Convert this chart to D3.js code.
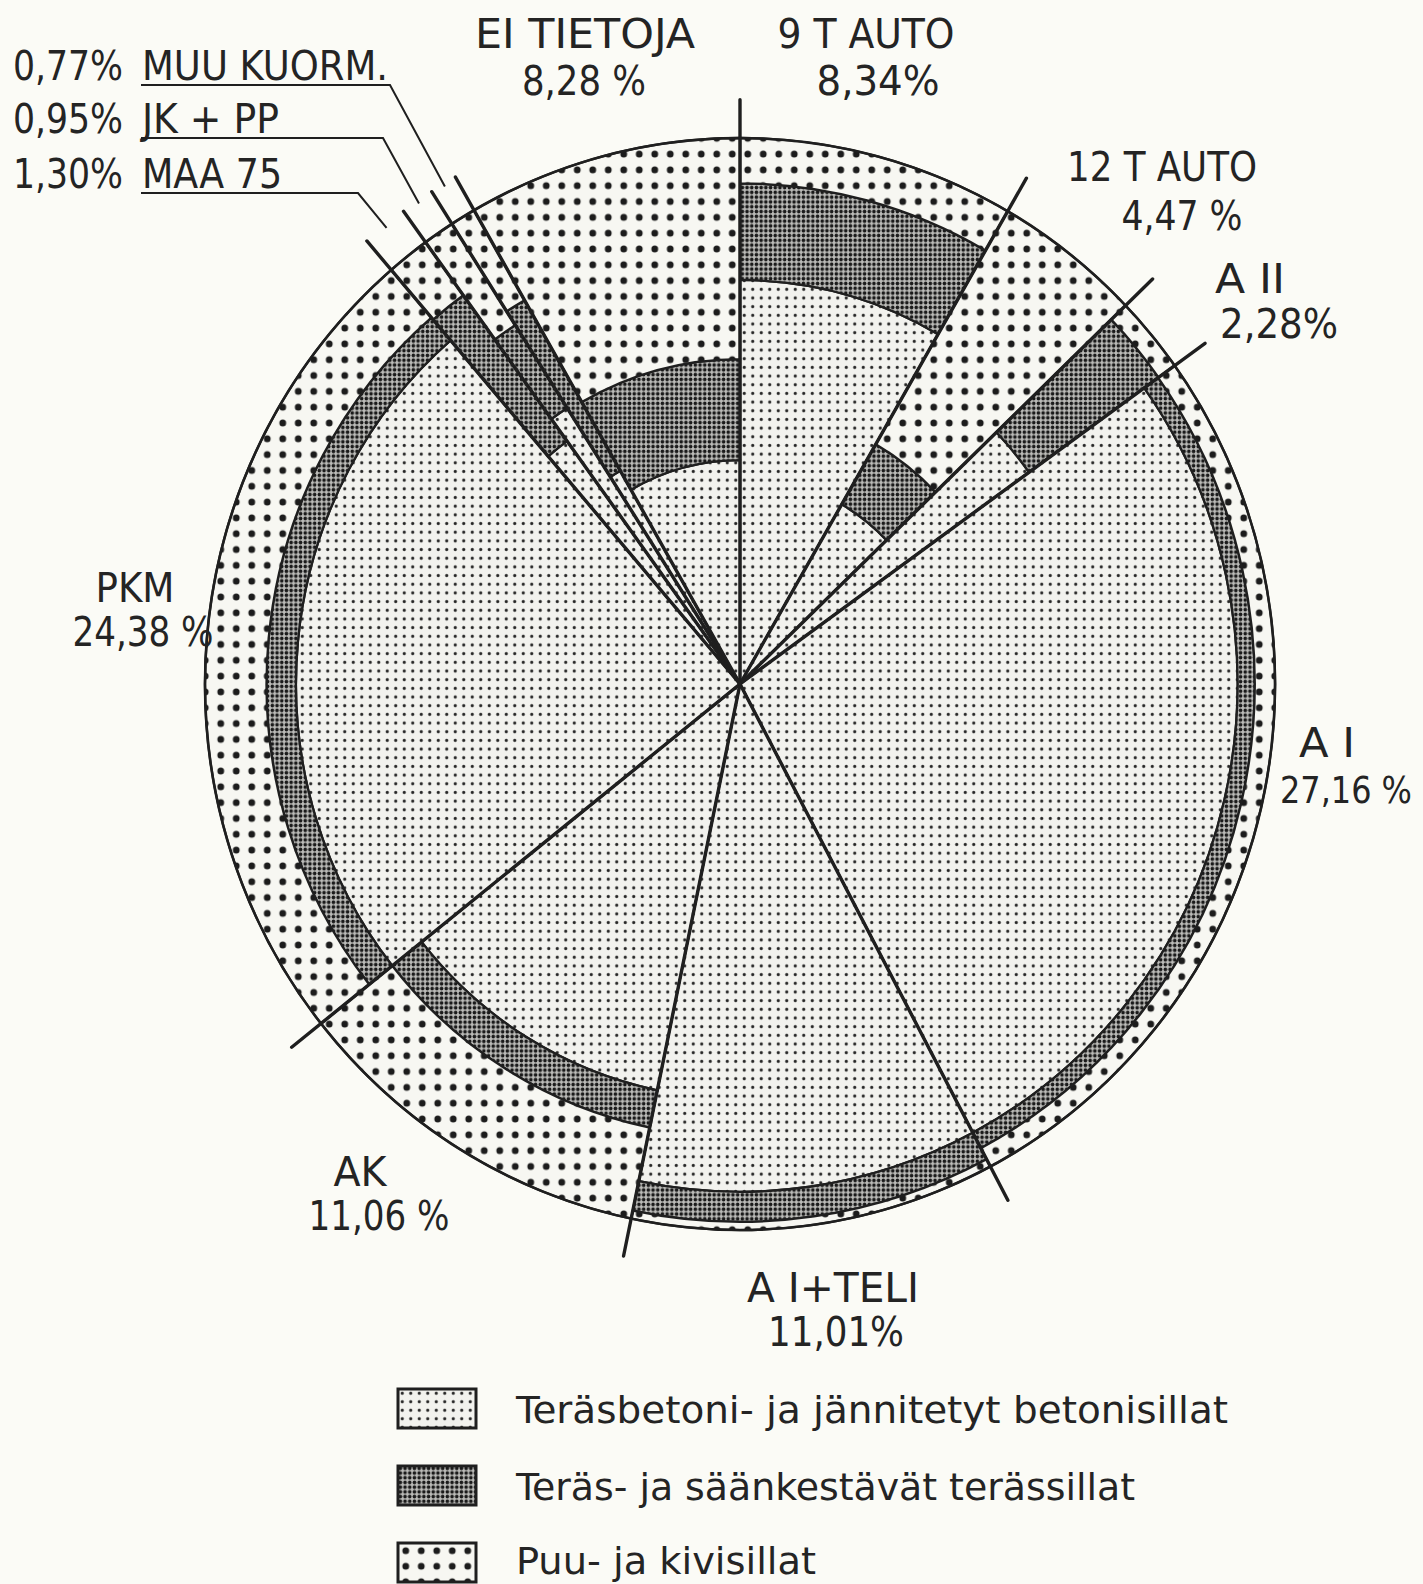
<!DOCTYPE html>
<html>
<head>
<meta charset="utf-8">
<script src="https://cdn.jsdelivr.net/npm/d3@7"></script>
<style>
  body { margin: 0; background: #fbfbf6; }
  text { font-family: "DejaVu Sans Condensed", "DejaVu Sans", sans-serif; fill: #242424; }
</style>
</head>
<body>
<svg id="chart" width="1423" height="1584"></svg>
<script>
// kuormitusluokat, kellon suuntaan klo 12:sta
const categories = ["9 T AUTO", "12 T AUTO", "A II", "A I", "A I+TELI", "AK", "PKM", "MAA 75", "JK + PP", "MUU KUORM.", "EI TIETOJA"];
const shares = [8.34, 4.47, 2.28, 27.16, 11.01, 11.06, 24.38, 1.30, 0.95, 0.77, 8.28];
// osuus säteestä, johon teräsbetonisillat / terässillat ulottuvat
const betoniEnd = [0.74, 0.38, 0.665, 0.93, 0.93, 0.76, 0.83, 0.55, 0.60, 0.45, 0.41];
const terasEnd = [0.917, 0.507, 0.963, 0.962, 0.985, 0.83, 0.885, 0.88, 0.78, 0.81, 0.595];
const bridgeTypes = ["Teräsbetoni- ja jännitetyt betonisillat", "Teräs- ja säänkestävät terässillat", "Puu- ja kivisillat"];

// label layout (page coords): name x, name y, name width, pct x, pct y, pct width, gap before %, pct font size
const labelLayout = [
  [866, 48, 177, 878, 95, 123, "", 40],
  [1162, 181, 190, 1182, 230, 121, " ", 40],
  [1250, 293, 70, 1279, 338, 118, "", 40],
  [1327, 757, 56, 1346, 803, 132, " ", 37],
  [833, 1302, 172, 836, 1346, 136, "", 40],
  [360, 1186, 53, 379, 1230, 141, " ", 40],
  [135, 602, 79, 143, 646, 141, " ", 40],
  null, null, null,
  [585, 48, 220, 584, 95, 124, " ", 40]
];
// left column labels for the thin slices: baseline, name width, underline end
const sideRows = { 9: [80, 246, 390], 8: [133, 137, 383], 7: [188, 140, 358] };
const legendWidths = [712, 619, 300];

const svg = d3.select("#chart");
const cx = 740, cy = 684, rx = 535, ry = 546;
const ink = "#1f1f1f";

// fill patterns
const defs = svg.append("defs");
function dots(id, pitch, rad, bg, fg) {
  const p = defs.append("pattern").attr("id", id)
    .attr("patternUnits", "userSpaceOnUse")
    .attr("width", pitch).attr("height", pitch);
  p.append("rect").attr("width", pitch).attr("height", pitch).attr("fill", bg);
  p.append("circle").attr("cx", pitch / 2).attr("cy", pitch / 2).attr("r", rad).attr("fill", fg);
}
dots("betoni", 8.5, 1.55, "#f2f2ee", "#262626");
dots("teras", 4.7, 1.8, "#bcbcb9", "#1a1a1a");
dots("puu", 15.5, 3.4, "#f7f7f2", "#1c1c1c");
const fills = ["url(#betoni)", "url(#teras)", "url(#puu)"];

const r = d3.scaleLinear().domain([0, 1]).range([0, rx]);
const pie = d3.pie().sort(null).value(d => d.share);
const slices = pie(categories.map((c, i) => ({ name: c, share: shares[i], b: betoniEnd[i], t: terasEnd[i] })));
const arc = d3.arc();

const g = svg.append("g")
  .attr("transform", `translate(${cx},${cy}) scale(1,${ry / rx})`);

g.selectAll("g.slice")
  .data(slices)
  .join("g")
  .attr("class", "slice")
  .selectAll("path")
  .data(s => [[0, s.data.b], [s.data.b, s.data.t], [s.data.t, 1]].map((d, k) => ({
    inner: d[0], outer: d[1], k: k, s: s
  })))
  .join("path")
  .attr("d", d => arc({ innerRadius: r(d.inner), outerRadius: r(d.outer), startAngle: d.s.startAngle, endAngle: d.s.endAngle }))
  .attr("fill", d => fills[d.k])
  .attr("stroke", ink)
  .attr("stroke-width", 2.3)
  .attr("vector-effect", "non-scaling-stroke");

// outer rim
g.append("ellipse")
  .attr("rx", r(1)).attr("ry", r(1))
  .attr("fill", "none").attr("stroke", ink).attr("stroke-width", 2.6)
  .attr("vector-effect", "non-scaling-stroke");

// spokes, running a bit past the rim
g.selectAll("line.spoke")
  .data(slices)
  .join("line")
  .attr("class", "spoke")
  .attr("x1", 0).attr("y1", 0)
  .attr("x2", d => d3.pointRadial(d.startAngle, r(1.07))[0])
  .attr("y2", d => d3.pointRadial(d.startAngle, r(1.07))[1])
  .attr("stroke", ink).attr("stroke-width", 3.4)
  .attr("stroke-linecap", "round")
  .attr("vector-effect", "non-scaling-stroke");

function pct(i) {
  const gap = labelLayout[i] ? labelLayout[i][6] : "";
  return shares[i].toFixed(2).replace(".", ",") + gap + "%";
}

// labels round the pie
const lbl = svg.append("g").attr("font-size", 40);
slices.forEach((s, i) => {
  const L = labelLayout[i];
  if (!L) return;
  lbl.append("text").attr("x", L[0] - L[2] / 2).attr("y", L[1])
    .attr("textLength", L[2]).attr("lengthAdjust", "spacingAndGlyphs").text(categories[i]);
  lbl.append("text").attr("x", L[3] - L[5] / 2).attr("y", L[4])
    .attr("font-size", L[7])
    .attr("textLength", L[5]).attr("lengthAdjust", "spacingAndGlyphs").text(pct(i));
});

// thin slices labelled on the left, with leader lines
Object.keys(sideRows).forEach(key => {
  const i = +key, s = slices[i];
  const [by, w, ux] = sideRows[i];
  lbl.append("text").attr("x", 13).attr("y", by)
    .attr("textLength", 110).attr("lengthAdjust", "spacingAndGlyphs").text(pct(i));
  lbl.append("text").attr("x", 142).attr("y", by)
    .attr("textLength", w).attr("lengthAdjust", "spacingAndGlyphs").text(categories[i]);
  const p = d3.pointRadial((s.startAngle + s.endAngle) / 2, r(1.065));
  const end = [cx + p[0], cy + p[1] * ry / rx];
  svg.append("path")
    .attr("d", d3.line()([[141, by + 5], [ux, by + 5], end]))
    .attr("fill", "none").attr("stroke", ink).attr("stroke-width", 2);
});

// legend
const leg = svg.append("g").attr("transform", "translate(398,1389)");
const legRows = leg.selectAll("g")
  .data(bridgeTypes)
  .join("g")
  .attr("transform", (d, k) => `translate(0,${k * 77})`);
legRows.append("rect")
  .attr("width", 78).attr("height", 39)
  .attr("fill", (d, k) => fills[k])
  .attr("stroke", ink).attr("stroke-width", 3);
legRows.append("text")
  .attr("x", 118).attr("y", (d, k) => k === 2 ? 31 : 34)
  .attr("font-size", 38)
  .attr("textLength", (d, k) => legendWidths[k])
  .attr("lengthAdjust", "spacingAndGlyphs")
  .text(d => d);
</script>
</body>
</html>
